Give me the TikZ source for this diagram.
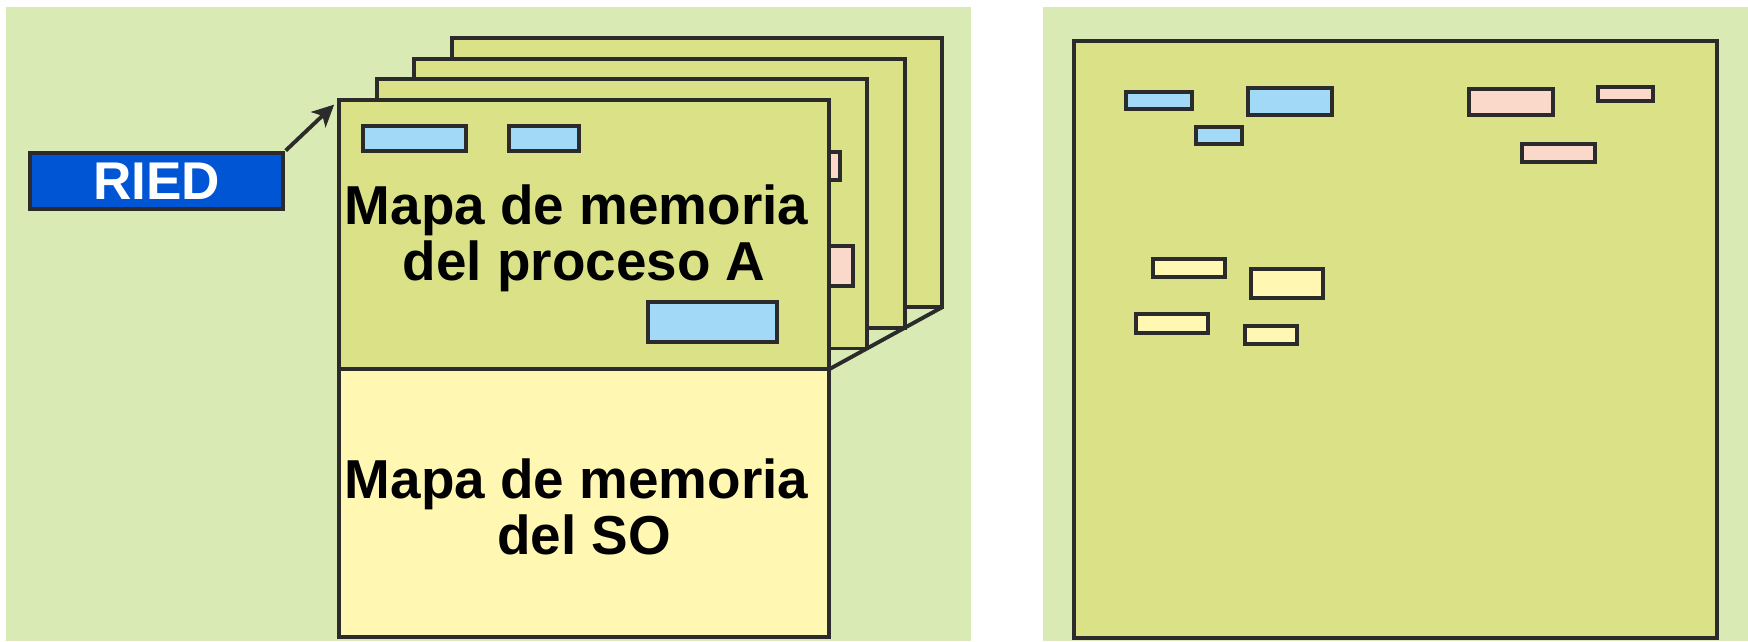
\documentclass[tikz,border=0pt]{standalone}
\usepackage{fontspec}
\setmainfont{Liberation Sans}
\usetikzlibrary{arrows.meta}
\definecolor{bgc}{HTML}{D9EAB5}
\definecolor{pagec}{HTML}{DBE186}
\definecolor{osc}{HTML}{FFF7B2}
\definecolor{bluec}{HTML}{A2D9F7}
\definecolor{pinkc}{HTML}{FAD9CA}
\definecolor{riedc}{HTML}{0055D4}
\definecolor{linec}{HTML}{2B2B2B}
\begin{document}
\begin{tikzpicture}[x=0.01cm,y=-0.01cm,
  outl/.style={draw=linec, line width=1.1pt},
  box/.style={outl, inner sep=0pt, outer sep=0pt, anchor=north west},
  page/.style={box, fill=pagec, minimum width=4.90cm, minimum height=2.69cm},
  big/.style={font=\fontsize{15.6}{15.9}\selectfont\bfseries, align=center, inner sep=0pt},
  bluebox/.style={outl, fill=bluec},
  pinkbox/.style={outl, fill=pinkc},
  yelbox/.style={outl, fill=osc}]
\useasboundingbox (0,0) rectangle (1748,641);
% background panels
\fill[bgc] (6,7) rectangle (971,641);
\fill[bgc] (1043,7) rectangle (1748,641);
% stacked pages (back to front)
\node[page] (p4) at (452,38) {};
\node[page] (p3) at (414.3,58.7) {};
\node[page] (p2) at (376.7,79.3) {};
\draw[pinkbox] (800,152) rectangle (840,180);
\draw[pinkbox] (800,246) rectangle (853,286);
\node[page] (pa) at (339,100) {};
\node[box, fill=osc, minimum width=4.90cm, minimum height=2.68cm] (so) at (339,369) {};
\node[big] (ta) at ([yshift=-0.04cm]pa.center) {Mapa de memoria\hspace*{0.278em}\\del proceso A};
\node[big] (tso) at ([yshift=-0.035cm]so.center) {Mapa de memoria\hspace*{0.278em}\\del SO};
\draw[bluebox] (363,126) rectangle (466,151);
\draw[bluebox] (509,126) rectangle (579,151);
\draw[bluebox] (648,302) rectangle (777,342);
\draw[outl] (pa.south east) -- (p4.south east);
% RIED
\node[box, fill=riedc, minimum width=2.53cm, minimum height=0.56cm, text=white,
  font=\fontsize{15.1}{15.1}\selectfont\bfseries] (ried) at (30,153) {RIED};
\draw[outl, -{Stealth[length=6.2pt,width=6pt,inset=1.6pt]}, shorten <=1pt, shorten >=1.9pt]
  (ried.north east) -- (pa.north west);
% right panel: physical memory
\node[box, fill=pagec, minimum width=6.43cm, minimum height=5.97cm] (mem) at (1074,41) {};
\draw[bluebox] (1126,92) rectangle (1192,109);
\draw[bluebox] (1248,88) rectangle (1332,115);
\draw[bluebox] (1196,127) rectangle (1242,144);
\draw[pinkbox] (1469,89) rectangle (1553,115);
\draw[pinkbox] (1598,87) rectangle (1653,101);
\draw[pinkbox] (1522,144) rectangle (1595,162);
\draw[yelbox] (1153,259) rectangle (1225,277);
\draw[yelbox] (1251,269) rectangle (1323,298);
\draw[yelbox] (1136,314) rectangle (1208,333);
\draw[yelbox] (1245,326) rectangle (1297,344);
\end{tikzpicture}
\end{document}
